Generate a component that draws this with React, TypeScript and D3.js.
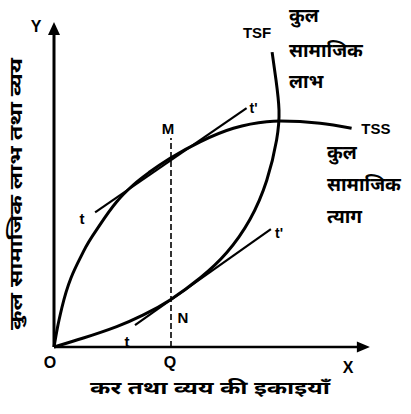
import { useEffect, useRef } from 'react';
import * as d3 from 'd3';

// TSS - total social sacrifice (concave curve)
const tssPoints: [number, number][] = [
  [0, 0], [0.11, 0.62], [0.26, 1.3], [0.98, 3.18], [1.53, 4.07], [2.09, 4.84],
  [2.64, 5.4], [3.2, 5.84], [3.87, 6.29], [4.87, 6.84], [5.98, 7.29],
  [7.09, 7.51], [7.53, 7.53], [8.87, 7.46], [9.92, 7.29],
];

// TSF - total social benefit (convex curve bending back at the top)
const tsfPoints: [number, number][] = [
  [0, 0], [0.98, 0.3], [2.09, 0.68], [2.98, 1.07], [3.87, 1.57], [4.87, 2.3],
  [5.76, 3.15], [6.53, 4.25], [7.09, 5.55], [7.42, 6.9], [7.5, 7.9],
  [7.4, 8.9], [7.27, 9.83],
];

// tangent lines t-t'
const upperTangent: [number, number][] = [[1.37, 4.49], [6.42, 7.96]];
const lowerTangent: [number, number][] = [[2.7, 0.73], [7.23, 3.93]];

// equilibrium quantity Q
const qValue = 3.9;
const qTop = 6.97;

const axisMax = { x: 10.53, y: 10.83 };

const pointLabels: { text: string; x: number; y: number; size: number }[] = [
  { text: 'Y', x: -0.6, y: 10.67, size: 16 },
  { text: 'O', x: -0.13, y: -0.53, size: 16 },
  { text: 'Q', x: 3.87, y: -0.53, size: 16 },
  { text: 'X', x: 9.8, y: -0.67, size: 16 },
  { text: 'M', x: 3.8, y: 7.3, size: 15 },
  { text: 'N', x: 4.3, y: 0.97, size: 15 },
  { text: 't', x: 0.93, y: 4.3, size: 15 },
  { text: "t'", x: 6.65, y: 7.97, size: 14 },
  { text: 't', x: 2.43, y: 0.17, size: 15 },
  { text: "t'", x: 7.5, y: 3.8, size: 14 },
  { text: 'TSF', x: 6.77, y: 10.47, size: 15 },
  { text: 'TSS', x: 10.73, y: 7.3, size: 15 },
];

const benefitLines = ['कुल', 'सामाजिक', 'लाभ'];
const sacrificeLines = ['कुल', 'सामाजिक', 'त्याग'];
const yTitle = 'कुल सामाजिक लाभ तथा व्यय';
const xTitle = 'कर तथा व्यय की इकाइयाँ';

const W = 411, H = 414;
const hindiFont = "'Noto Sans Devanagari', 'Lohit Devanagari', 'FreeSans', sans-serif";
const latinFont = "'Liberation Sans', Arial, sans-serif";

export default function App() {
  const ref = useRef<SVGSVGElement>(null);

  useEffect(() => {
    const svg = d3.select(ref.current);
    svg.selectAll('*').remove();

    const x = d3.scaleLinear().domain([0, 10]).range([54, 354]);
    const y = d3.scaleLinear().domain([0, 10]).range([347, 47]);

    svg.append('rect').attr('width', W).attr('height', H).style('fill', '#fff');

    // Axes with arrow heads
    svg.append('line')
      .attr('x1', x(0)).attr('y1', y(0)).attr('x2', x(0)).attr('y2', y(axisMax.y) + 6)
      .style('stroke', '#000').style('stroke-width', 3);
    svg.append('path')
      .attr('d', `M${x(0)},${y(axisMax.y)} L${x(0) - 6},${y(axisMax.y) + 13} L${x(0) + 6},${y(axisMax.y) + 13} Z`)
      .style('fill', '#000');
    svg.append('line')
      .attr('x1', x(0)).attr('y1', y(0)).attr('x2', x(axisMax.x) - 6).attr('y2', y(0))
      .style('stroke', '#000').style('stroke-width', 2.5);
    svg.append('path')
      .attr('d', `M${x(axisMax.x)},${y(0)} L${x(axisMax.x) - 13},${y(0) - 5.5} L${x(axisMax.x) - 13},${y(0) + 5.5} Z`)
      .style('fill', '#000');

    // Dashed line QM
    svg.append('line')
      .attr('x1', x(qValue)).attr('x2', x(qValue)).attr('y1', y(0)).attr('y2', y(qTop))
      .style('stroke', '#000').style('stroke-width', 1.6).style('stroke-dasharray', '6,3');

    // Curves
    const line = d3.line<[number, number]>().x(d => x(d[0])).y(d => y(d[1]));
    svg.append('path').attr('d', line.curve(d3.curveMonotoneX)(tssPoints))
      .style('fill', 'none').style('stroke', '#000').style('stroke-width', 3);
    svg.append('path').attr('d', line.curve(d3.curveNatural)(tsfPoints))
      .style('fill', 'none').style('stroke', '#000').style('stroke-width', 3);

    // Tangents
    [upperTangent, lowerTangent].forEach(t => {
      svg.append('path').attr('d', line.curve(d3.curveLinear)(t))
        .style('fill', 'none').style('stroke', '#000').style('stroke-width', 2.2);
    });

    // Letter labels
    pointLabels.forEach(l => {
      svg.append('text')
        .attr('x', x(l.x)).attr('y', y(l.y))
        .attr('text-anchor', 'middle').attr('dominant-baseline', 'central')
        .style('font-family', latinFont).style('font-weight', 'bold').style('font-size', `${l.size}px`)
        .text(l.text);
    });

    // Hindi side labels
    const side = (lines: string[], px: number, py: number[]) => {
      lines.forEach((s, i) => {
        svg.append('text')
          .attr('x', px).attr('y', py[i])
          .attr('dominant-baseline', 'central')
          .style('font-family', hindiFont).style('font-weight', 'bold').style('font-size', '19px')
          .text(s);
      });
    };
    side(benefitLines, 289, [17, 52, 83]);
    side(sacrificeLines, 327, [154, 186, 218]);

    // Axis titles
    svg.append('text')
      .attr('transform', `translate(17,${(58 + 330) / 2}) rotate(-90)`)
      .attr('text-anchor', 'middle').attr('dominant-baseline', 'central')
      .attr('textLength', 272).attr('lengthAdjust', 'spacingAndGlyphs')
      .style('font-family', hindiFont).style('font-weight', 'bold').style('font-size', '18px')
      .text(yTitle);
    svg.append('text')
      .attr('x', 210).attr('y', 389)
      .attr('text-anchor', 'middle').attr('dominant-baseline', 'central')
      .attr('textLength', 240).attr('lengthAdjust', 'spacingAndGlyphs')
      .style('font-family', hindiFont).style('font-weight', 'bold').style('font-size', '18px')
      .text(xTitle);
  }, []);

  return (
    <svg ref={ref} width={W} height={H}
      style={{ position: 'absolute', left: 0, top: 0, background: '#fff' }} />
  );
}
